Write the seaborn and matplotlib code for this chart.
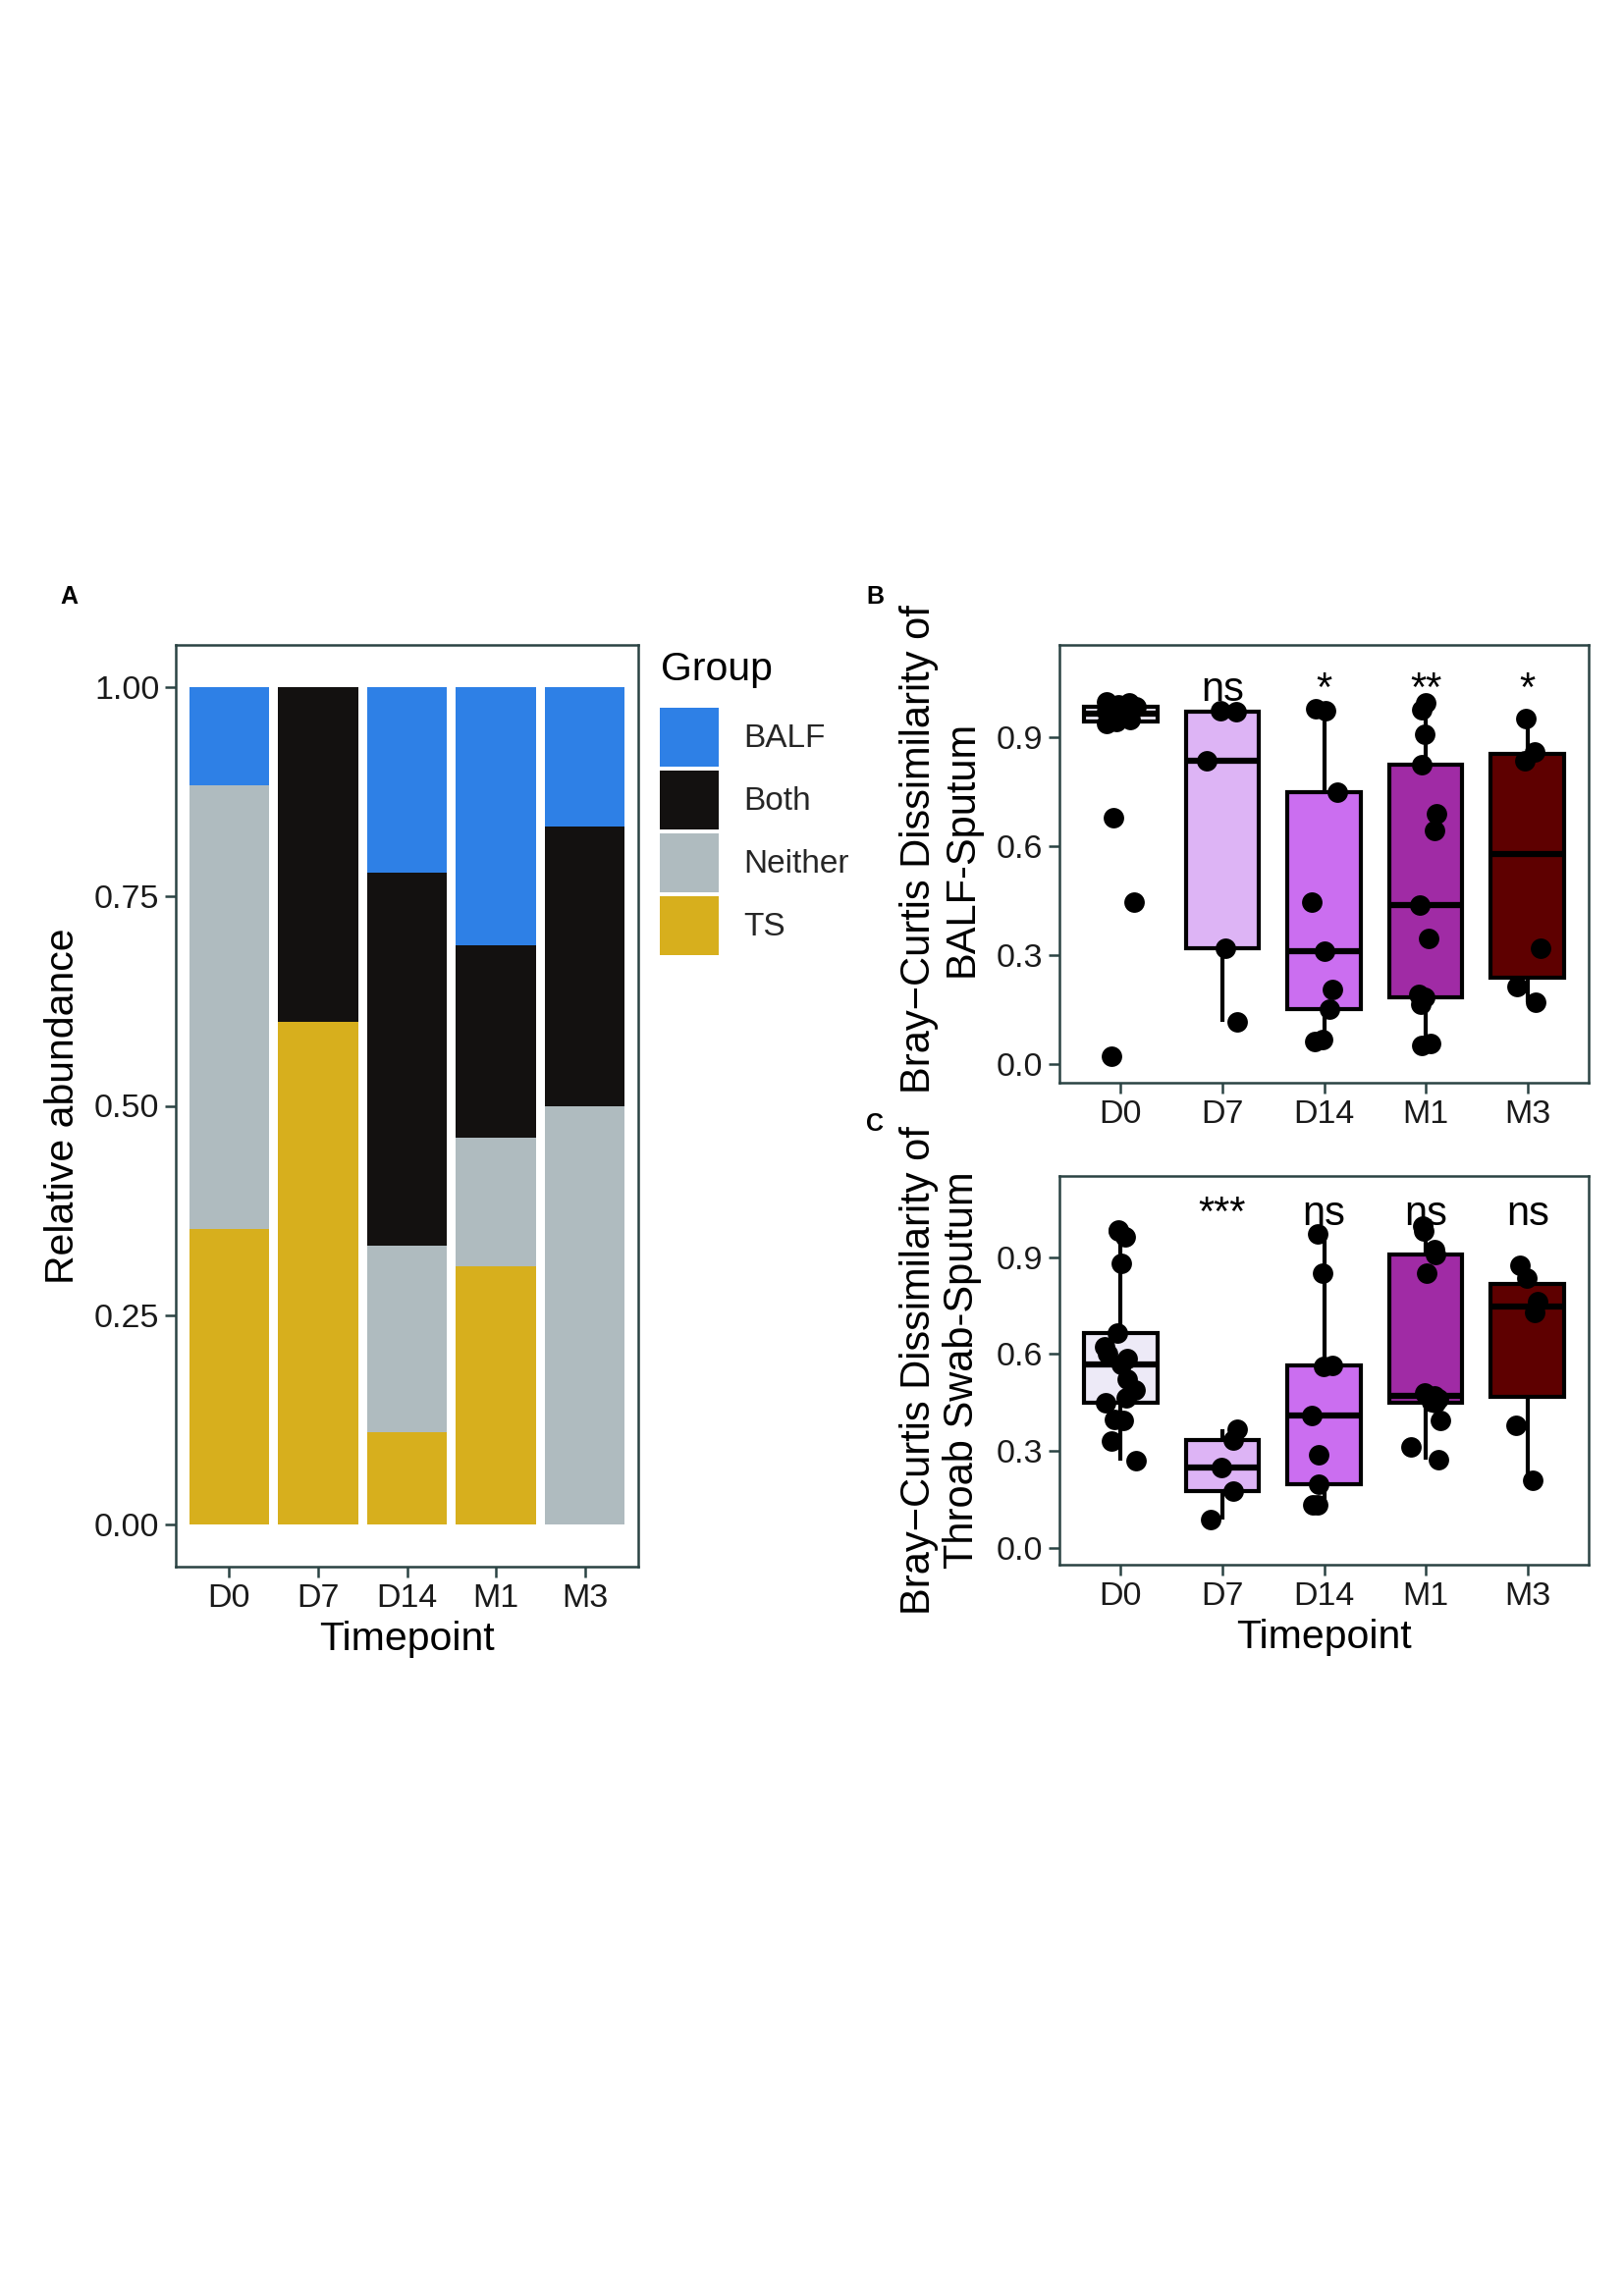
import numpy as np
import pandas as pd
import matplotlib
matplotlib.use("Agg")
import matplotlib.pyplot as plt
import seaborn as sns
from matplotlib.patches import Patch

# ---------------- data ----------------
timepoints = ["D0", "D7", "D14", "M1", "M3"]
groups = ["BALF", "Both", "Neither", "TS"]
group_colors = ["#2E80E6", "#131110", "#AFBBBF", "#D7AF1D"]

# Panel A: relative abundance (stack bottom -> top: TS, Neither, Both, BALF)
prop_TS = [0.353, 0.600, 0.111, 0.308, 0.000]
prop_Neither = [0.529, 0.000, 0.222, 0.154, 0.500]
prop_Both = [0.000, 0.400, 0.445, 0.230, 0.333]
prop_BALF = [0.118, 0.000, 0.222, 0.308, 0.167]

# Panel B: Bray-Curtis dissimilarity BALF-Sputum
B_D0 = [0.999, 0.995, 0.990, 0.988, 0.985, 0.980, 0.975, 0.970, 0.965,
        0.960, 0.955, 0.950, 0.945, 0.940, 0.680, 0.447, 0.022]
B_D7 = [0.975, 0.970, 0.837, 0.320, 0.117]
B_D14 = [0.980, 0.975, 0.749, 0.447, 0.312, 0.207, 0.153, 0.067, 0.063]
B_M1 = [0.995, 0.977, 0.910, 0.826, 0.689, 0.645, 0.438, 0.346, 0.193,
        0.184, 0.166, 0.056, 0.051]
B_M3 = [0.952, 0.860, 0.837, 0.319, 0.213, 0.171]

# Panel C: Bray-Curtis dissimilarity Throat swab-Sputum
C_D0 = [0.985, 0.983, 0.962, 0.881, 0.665, 0.624, 0.600, 0.585, 0.569,
        0.521, 0.490, 0.465, 0.450, 0.397, 0.394, 0.330, 0.269]
C_D7 = [0.368, 0.333, 0.247, 0.176, 0.086]
C_D14 = [0.972, 0.850, 0.566, 0.561, 0.411, 0.287, 0.196, 0.133, 0.133]
C_M1 = [0.996, 0.983, 0.925, 0.910, 0.850, 0.480, 0.470, 0.460, 0.452,
        0.450, 0.394, 0.313, 0.272]
C_M3 = [0.876, 0.835, 0.764, 0.729, 0.379, 0.208]

sig_B = ["", "ns", "*", "**", "*"]
sig_C = ["", "***", "ns", "ns", "ns"]

box_colors = ["#EDEAF7", "#DDB4F5", "#CB6EF0", "#A02BA5", "#5E0000"]

# ---------------- style ----------------
sns.set_theme(style="white")
plt.rcParams["font.family"] = ["Liberation Sans", "DejaVu Sans"]
FRAME = "#2A4343"
TXT = "#1a1a1a"

W, H = 1654, 2339
fig = plt.figure(figsize=(W / 100, H / 100), dpi=100)


def px_axes(l, t, r, b):
    return fig.add_axes([l / W, 1 - b / H, (r - l) / W, (b - t) / H])


axA = px_axes(179, 657, 650, 1596)
axB = px_axes(1079, 657, 1618, 1103)
axC = px_axes(1079, 1198, 1618, 1594)


def style_axes(ax):
    for sp in ax.spines.values():
        sp.set_visible(True)
        sp.set_color(FRAME)
        sp.set_linewidth(1.8)
    ax.tick_params(axis="both", length=8, width=1.8, color=FRAME,
                   labelsize=24.5, labelcolor=TXT, pad=4,
                   bottom=True, left=True)
    ax.set_xlim(-0.6, 4.6)
    ax.grid(False)


# ---------------- Panel A ----------------
cum_TS = np.array(prop_TS)
cum_Neither = cum_TS + np.array(prop_Neither)
cum_Both = cum_Neither + np.array(prop_Both)
cum_BALF = cum_Both + np.array(prop_BALF)
for cum, col in zip([cum_BALF, cum_Both, cum_Neither, cum_TS], group_colors):
    sns.barplot(x=timepoints, y=cum, order=timepoints, color=col,
                saturation=1, width=0.9, errorbar=None, ax=axA,
                linewidth=0)
style_axes(axA)
axA.set_ylim(-0.05, 1.05)
axA.set_yticks([0, 0.25, 0.5, 0.75, 1.0])
axA.set_yticklabels(["0.00", "0.25", "0.50", "0.75", "1.00"])
axA.set_xlabel("Timepoint", fontsize=29.5, color="black", labelpad=5)
axA.set_ylabel("Relative abundance", fontsize=29.5, color="black", labelpad=9)

handles = [Patch(facecolor=c, edgecolor="none", label=g)
           for g, c in zip(groups, group_colors)]
leg = fig.legend(handles=handles, loc="upper left",
                 bbox_to_anchor=(672 / W, 1 - 721 / H),
                 bbox_transform=fig.transFigure, frameon=False,
                 fontsize=24, handlelength=1.8,
                 handleheight=2.39, labelspacing=0.12, handletextpad=0.75,
                 borderpad=0, borderaxespad=0)
fig.text(673 / W, 1 - 682 / H, "Group", fontsize=29.5, ha="left",
         va="center", color="black")


# ---------------- Panels B & C ----------------
def make_df(lists):
    tp = []
    vals = []
    for t, l in zip(timepoints, lists):
        tp += [t] * len(l)
        vals += list(l)
    return pd.DataFrame({"Timepoint": tp, "value": vals})


dfB = make_df([B_D0, B_D7, B_D14, B_M1, B_M3])
dfC = make_df([C_D0, C_D7, C_D14, C_M1, C_M3])

np.random.seed(7)
for ax, df, sig, ylim, lab in [
    (axB, dfB, sig_B, (-0.051, 1.155),
     "Bray\u2212Curtis Dissimilarity of\nBALF-Sputum"),
    (axC, dfC, sig_C, (-0.053, 1.152),
     "Bray\u2212Curtis Dissimilarity of\nThroab Swab-Sputum"),
]:
    sns.boxplot(data=df, x="Timepoint", y="value", hue="Timepoint",
                order=timepoints, hue_order=timepoints, palette=box_colors,
                width=0.72, linewidth=3.0, linecolor="black",
                showfliers=False, saturation=1, legend=False, ax=ax,
                showcaps=False, medianprops={"linewidth": 4.5})
    sns.stripplot(data=df, x="Timepoint", y="value", order=timepoints,
                  color="black", size=15, jitter=0.16, ax=ax, zorder=4,
                  linewidth=0)
    for i, s in enumerate(sig):
        if s:
            ax.text(i, 1.0, s, ha="center", va="baseline", fontsize=30,
                    color="black", zorder=5)
    style_axes(ax)
    ax.set_ylim(*ylim)
    ax.set_yticks([0.0, 0.3, 0.6, 0.9])
    ax.set_yticklabels(["0.0", "0.3", "0.6", "0.9"])
    ax.set_ylabel(lab, fontsize=30, color="black", labelpad=11,
                  linespacing=1.13)

axB.set_xlabel("")
axC.set_xlabel("Timepoint", fontsize=29.5, color="black", labelpad=5)

# shift the B y-label slightly upward, keeping its horizontal place
fig.canvas.draw()
xd = axB.yaxis.label.get_window_extent().x1
xa = axB.transAxes.inverted().transform((xd, 0))[0]
axB.yaxis.set_label_coords(xa, 0.534)

# panel letters
for s, x, y in [("A", 70, 608), ("B", 891, 608), ("C", 891, 1145)]:
    fig.text(x / W, 1 - y / H, s, fontsize=18, fontweight="bold",
             ha="center", va="center", color="black")

fig.savefig("out.png", dpi=100, facecolor="white")
